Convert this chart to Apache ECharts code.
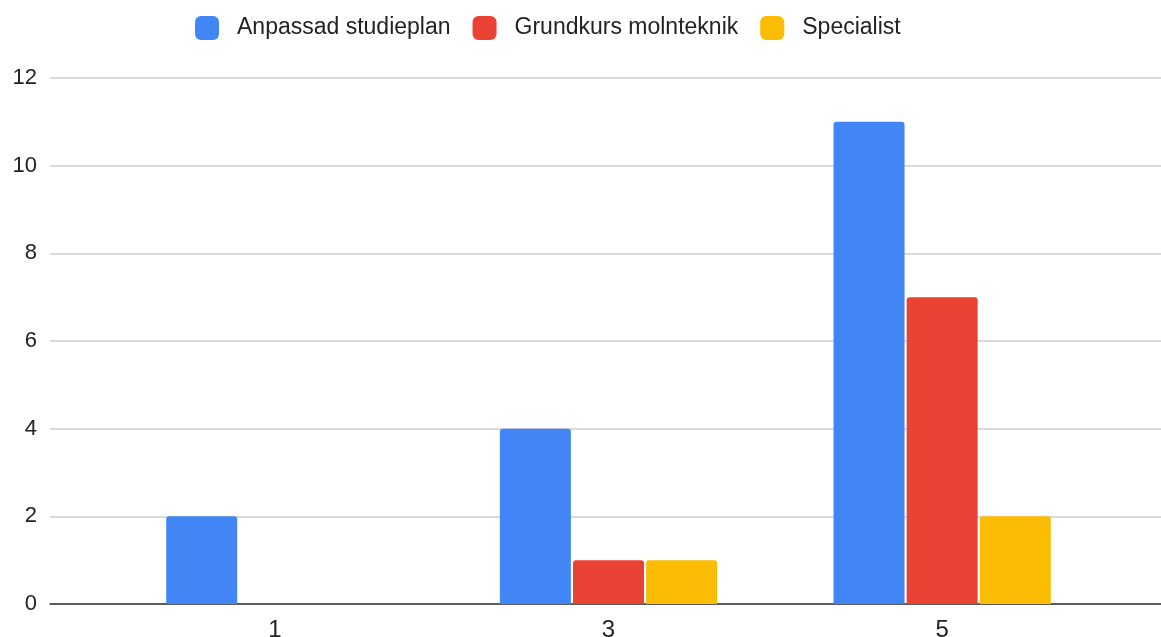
<!DOCTYPE html>
<html>
<head>
<meta charset="utf-8">
<script src="https://cdn.jsdelivr.net/npm/echarts@6/dist/echarts.min.js"></script>
<style>html,body{margin:0;padding:0;background:#fff}#c{width:1161px;height:637px}</style>
</head>
<body>
<div id="c"></div>
<script>
const categories = ['1', '3', '5'];
const seriesNames = ['Anpassad studieplan', 'Grundkurs molnteknik', 'Specialist'];
const anpassad = [2, 4, 11];
const grundkurs = [0, 1, 7];
const specialist = [0, 1, 2];
const yTicks = [0, 2, 4, 6, 8, 10, 12];
const colors = ['#4285F4', '#EA4335', '#FBBC04'];

const font = '"Liberation Sans", Arial, sans-serif';
const chart = echarts.init(document.getElementById('c'));
const values = [anpassad, grundkurs, specialist];
chart.setOption({
  animation: false,
  textStyle: { fontFamily: font },
  legend: {
    left: 195, top: 16, padding: 0,
    itemWidth: 24, itemHeight: 24, itemGap: 22,
    icon: 'roundRect',
    textStyle: { fontSize: 23, color: '#222', padding: [0, 0, 0, 13], fontFamily: font },
    data: seriesNames
  },
  grid: [
    { left: 50, right: 0, top: 78, bottom: 33, outerBoundsMode: 'none', containLabel: false },
    { left: 108, right: 52, top: 78, bottom: 33, outerBoundsMode: 'none', containLabel: false }
  ],
  xAxis: [
    { gridIndex: 0, type: 'category', data: [''], axisLine: { lineStyle: { color: '#333', width: 1.5 } }, axisTick: { show: false }, axisLabel: { show: false } },
    { gridIndex: 1, type: 'category', data: categories, axisLine: { show: false }, axisTick: { show: false },
      axisLabel: { fontSize: 24, color: '#222', margin: 14, fontFamily: font } }
  ],
  yAxis: [
    { gridIndex: 0, type: 'value', min: yTicks[0], max: yTicks[yTicks.length - 1], interval: 2,
      axisLine: { show: false }, axisTick: { show: false },
      axisLabel: { fontSize: 22, color: '#222', margin: 13, fontFamily: font },
      splitLine: { lineStyle: { color: '#cccccc', width: 1.5 } } },
    { gridIndex: 1, type: 'value', min: yTicks[0], max: yTicks[yTicks.length - 1], interval: 2, show: false, splitLine: { show: false } }
  ],
  series: seriesNames.map((name, i) => ({
    name, type: 'bar', xAxisIndex: 1, yAxisIndex: 1,
    data: values[i],
    barWidth: 71, barGap: '3%',
    itemStyle: { color: colors[i], borderRadius: [3, 3, 0, 0] },
    z: 3
  }))
});
</script>
</body>
</html>
